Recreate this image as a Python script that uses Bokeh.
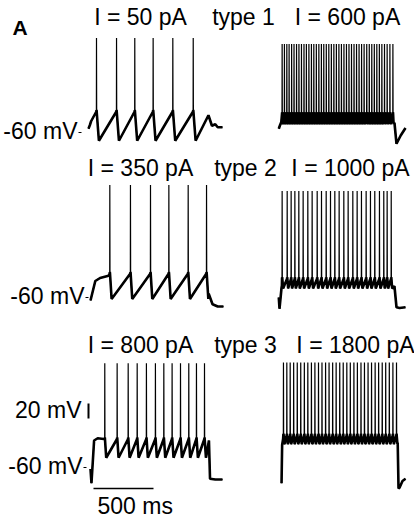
import numpy as np
from bokeh.plotting import figure
from bokeh.models import Range1d
from bokeh.core.properties import value
from bokeh.embed import file_html
from bokeh.resources import INLINE

# ---------------- data (ms, mV) ----------------
PANEL_LABEL = "A"
TITLES_LEFT = ["I = 50 pA", "I = 350 pA", "I = 800 pA"]
TITLES_MID = ["type 1", "type 2", "type 3"]
TITLES_RIGHT = ["I = 600 pA", "I = 1000 pA", "I = 1800 pA"]
REST_LABEL = "-60 mV"
REST_MV = -60
SCALE_MV = 20
SCALE_MS = 500
SCALE_MV_LABEL = "20 mV"
SCALE_MS_LABEL = "500 ms"

# type 1, 50 pA
L1_SPIKES = [50, 217, 369, 522, 686, 856]
L1_LEVELS = [66, -32, -71]          # peak, threshold, trough
L1_PRE = [(-17, -55), (-5, -50), (5, -45)]
L1_POST = [(983, -37), (1012, -51), (1040, -49), (1060, -53), (1100, -53)]

# type 2, 350 pA
L2_SPIKES = [161, 333, 500, 653, 814, 967]
L2_LEVELS = [90, -28, -62]
L2_PRE = [(0, -64), (40, -38), (80, -34), (150, -31)]
L2_POST = [(985, -55), (1017, -69), (1060, -72), (1108, -72)]

# type 3, 800 pA
L3_SPIKES = [119, 222, 314, 389, 466, 541, 611, 680, 750, 819, 883, 950]
L3_LEVELS = [79, -22, -47]
L3_PRE = [(0, -62), (8, -81), (30, -24), (60, -21), (110, -22)]
L3_POST = [(966, -44), (987, -24), (996, -75), (1040, -76), (1100, -76)]

# type 1, 600 pA
R1_SPIKES = [22, 41, 61, 80, 101, 121, 142, 162, 183, 204, 224, 245, 266, 286,
             307, 328, 349, 369, 390, 411, 432, 453, 474, 495, 516, 537, 558,
             579, 600, 621, 642, 663, 684, 705, 727, 748, 769, 790, 811, 832,
             853, 875, 897, 920, 945]
R1_LEVELS = [58, -35, -49]
R1_PRE = [(-6, -55), (5, -50), (15, -46)]
R1_POST = [(958, -47), (975, -75), (1010, -64), (1050, -54)]

# type 2, 1000 pA
R2_SPIKES = [22, 64, 97, 128, 161, 197, 236, 272, 314, 350, 389, 425, 461,
             497, 536, 572, 611, 647, 683, 722, 758, 794, 833, 869, 897, 931]
R2_LEVELS = [82, -35, -48]
R2_PRE = [(-6, -60), (0, -75), (17, -47), (20, -44)]
R2_POST = [(958, -45), (975, -73), (1000, -74), (1050, -73)]

# type 3, 1800 pA
R3_SPIKES = [33, 61, 89, 118, 148, 177, 207, 236, 266, 295, 325, 354, 384,
             413, 443, 472, 502, 531, 561, 590, 620, 649, 679, 708, 738, 767,
             797, 826, 856, 885, 915, 945, 975]
R3_LEVELS = [80, -17, -29]
R3_PRE = [(17, -81), (22, -30), (30, -22)]
R3_POST = [(985, -27), (992, -88), (1000, -87), (1025, -78), (1050, -75)]

# ---------------- layout (reference pixels) ----------------
W, H = 414, 521
MS_PER_PX = 500 / 60
MV_PER_PX = 20 / 15
COL_X0 = [90, 279]         # step onset, px
ROW_Y60 = [132, 297, 467]  # -60 mV level, px
LABEL_RIGHT = [77, 84, 82]  # right edge of "-60 mV" labels, px
FONT = "Liberation Sans"
FS = "23px"


def px(X, Y):
    return X * MS_PER_PX, -Y * MV_PER_PX


def build(spikes, levels, pre, post, ahp):
    peak, thr, trough = levels
    t = [a for a, b in pre]
    v = [b for a, b in pre]
    for s in spikes:
        t += [s - 1.0, s, s + 1.5, s + ahp]
        v += [thr, peak, thr, trough]
    t += [a for a, b in post]
    v += [b for a, b in post]
    return np.array(t, float), np.array(v, float), thr


def label(X, Y, s, align="left", size=FS, style="normal"):
    x, y = px(X, Y)
    p.text([x], [y], text=[s], text_align=align, text_baseline="middle",
           text_font=value(FONT), text_font_size=size, text_font_style=style,
           text_color="black")


p = figure(width=W, height=H, output_backend="svg", toolbar_location=None, title=None,
           x_range=Range1d(0, W * MS_PER_PX), y_range=Range1d(-H * MV_PER_PX, 0),
           min_border=0)
p.axis.visible = False
p.grid.visible = False
p.outline_line_color = None
p.background_fill_color = "white"
p.border_fill_color = "white"

panels = [
    (0, 0, L1_SPIKES, L1_LEVELS, L1_PRE, L1_POST, 20),
    (0, 1, L2_SPIKES, L2_LEVELS, L2_PRE, L2_POST, 15),
    (0, 2, L3_SPIKES, L3_LEVELS, L3_PRE, L3_POST, 12),
    (1, 0, R1_SPIKES, R1_LEVELS, R1_PRE, R1_POST, 6),
    (1, 1, R2_SPIKES, R2_LEVELS, R2_PRE, R2_POST, 8),
    (1, 2, R3_SPIKES, R3_LEVELS, R3_PRE, R3_POST, 8),
]
for col, row, sp, lv, pre, post, ahp in panels:
    t, v, thr = build(sp, lv, pre, post, ahp)
    ox, oy = px(COL_X0[col], ROW_Y60[row])
    xs = ox + t
    ys = oy + (v - REST_MV)
    ys_sub = oy + (np.minimum(v, thr + 2) - REST_MV)
    p.line(xs, ys_sub, line_color="black", line_width=2.6)
    p.line(xs, ys, line_color="black", line_width=1.2)

# rest level labels and ticks
for row, Y in enumerate(ROW_Y60):
    label(LABEL_RIGHT[row], Y - 2, REST_LABEL, align="right")
    a = px(LABEL_RIGHT[row] + 1, Y)
    b = px(LABEL_RIGHT[row] + 4, Y)
    p.segment([a[0]], [a[1]], [b[0]], [b[1]], line_color="black", line_width=1)

# titles (centres)
TL_X = [140, 140, 140]
TM_X = [243, 245, 245]
TR_X = [347, 350, 355]
MID_Y = [16, 167, 344]
for i in range(3):
    label(TL_X[i], MID_Y[i], TITLES_LEFT[i], align="center")
    label(TM_X[i], MID_Y[i], TITLES_MID[i], align="center")
    label(TR_X[i], MID_Y[i], TITLES_RIGHT[i], align="center")

# panel letter
label(12, 27, PANEL_LABEL, size="21px", style="bold")

# scale bars
bx, by = px(88, 418)
p.segment([bx], [by], [bx], [by + SCALE_MV], line_color="black", line_width=2)
hx, hy = px(93, 488)
p.segment([hx], [hy], [hx + SCALE_MS], [hy], line_color="black", line_width=1.5)
label(81, 409, SCALE_MV_LABEL, align="right")
label(97, 505, SCALE_MS_LABEL)

open("out.html", "w").write(file_html(p, INLINE))
